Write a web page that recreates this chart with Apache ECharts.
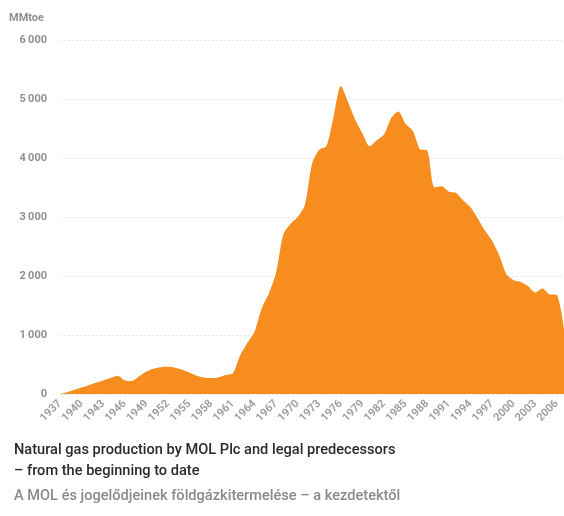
<!DOCTYPE html>
<html>
<head>
<meta charset="utf-8">
<script src="https://cdn.jsdelivr.net/npm/echarts@6/dist/echarts.min.js"></script>
<style>
html,body{margin:0;padding:0;background:#fff;}
#c{width:564px;height:516px;}
</style>
</head>
<body>
<div id="c"></div>
<script>
const years = [];
for (let y = 1937; y <= 2007; y++) years.push(String(y));
const production = [
  0, 30, 70, 110, 150, 190, 230, 270, 310, 230,
  220, 300, 380, 430, 455, 460, 445, 410, 360, 310,
  280, 270, 280, 320, 350, 650, 860, 1050, 1450, 1700,
  2050, 2700, 2880, 3000, 3200, 3900, 4140, 4200, 4700, 5220,
  4950, 4650, 4420, 4200, 4300, 4400, 4680, 4790, 4580, 4460,
  4150, 4130, 3500, 3520, 3430, 3410, 3280, 3170, 2980, 2770,
  2600, 2350, 2030, 1930, 1900, 1830, 1720, 1790, 1690, 1680,
  1100
];
const yTicks = [0, 1000, 2000, 3000, 4000, 5000, 6000];
const unitLabel = 'MMtoe';
const titleEn1 = 'Natural gas production by MOL Plc and legal predecessors';
const titleEn2 = '– from the beginning to date';
const titleHu = 'A MOL és jogelődjeinek földgázkitermelése – a kezdetektől';

const chart = echarts.init(document.getElementById('c'), null, {renderer: 'canvas'});
chart.setOption({
  backgroundColor: '#fff',
  animation: false,
  textStyle: {fontFamily: 'Roboto, "Liberation Sans", sans-serif'},
  grid: {left: 60, right: 0, top: 40, bottom: 122, containLabel: false},
  xAxis: {
    type: 'category',
    data: years,
    boundaryGap: false,
    axisLine: {show: false},
    axisTick: {show: false},
    axisLabel: {
      interval: 2,
      rotate: 45,
      color: '#a0a0a0',
      fontSize: 11,
      fontWeight: 'bold',
      margin: 8
    },
    splitLine: {show: false}
  },
  yAxis: {
    type: 'value',
    min: yTicks[0],
    max: yTicks[yTicks.length - 1],
    interval: 1000,
    axisLine: {show: false},
    axisTick: {show: false},
    axisLabel: {
      color: '#8f8f8f',
      fontSize: 11,
      fontWeight: 'bold',
      margin: 13,
      formatter: v => v >= 1000 ? Math.floor(v / 1000) + '\u2009' + String(v % 1000).padStart(3, '0') : String(v)
    },
    splitLine: {show: true, lineStyle: {color: '#e6e6e6', type: [2, 2], width: 1}}
  },
  series: [{
    type: 'line',
    data: production,
    smooth: 0.25,
    symbol: 'none',
    lineStyle: {width: 0},
    areaStyle: {color: '#f78c1f', opacity: 1},
    z: 3
  }],
  graphic: [
    {type: 'text', left: 9, top: 13, style: {text: unitLabel, fill: '#8f8f8f', font: 'bold 11px Roboto, sans-serif'}},
    {type: 'text', left: 14, top: 443, style: {text: titleEn1, fill: '#2b2b2b', font: '500 14.6px Roboto, sans-serif'}},
    {type: 'text', left: 14, top: 464, style: {text: titleEn2, fill: '#2b2b2b', font: '500 14.6px Roboto, sans-serif'}},
    {type: 'text', left: 14, top: 489, style: {text: titleHu, fill: '#8a8a8a', font: '500 14.6px Roboto, sans-serif'}}
  ]
});
</script>
</body>
</html>
